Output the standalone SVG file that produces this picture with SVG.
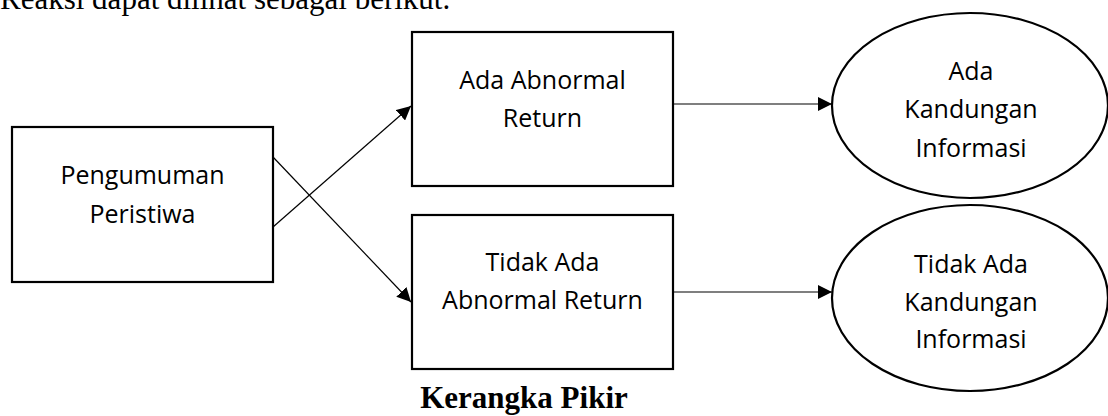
<svg xmlns="http://www.w3.org/2000/svg" width="1108" height="416" viewBox="0 0 1108 416">
<style>
.box{fill:#fff;stroke:#000;stroke-width:2.2}
.ell{fill:#fff;stroke:#000;stroke-width:2.2}
.lbl{font-family:"Open Sans","Noto Sans",sans-serif;font-size:25px;fill:#000;text-anchor:middle}
.conn{stroke:#000;stroke-width:1.2;fill:none;marker-end:url(#arr)}
.serif{font-family:"Liberation Serif","Times New Roman",serif;fill:#000}
</style>
<defs>
<marker id="arr" markerUnits="userSpaceOnUse" markerWidth="14" markerHeight="14" refX="14" refY="7" orient="auto">
<path d="M0,0 L14,7 L0,14 z" fill="#000"/>
</marker>
</defs>
<rect width="1108" height="416" fill="#fff"/>
<text class="serif" x="0" y="9" font-size="31">Reaksi dapat dilihat sebagai berikut.</text>
<g id="pengumuman">
<rect class="box" x="12" y="127" width="261" height="155"/>
<text class="lbl" x="142.5" y="184">Pengumuman</text>
<text class="lbl" x="142.5" y="223">Peristiwa</text>
</g>
<g id="ada-abnormal">
<rect class="box" x="412" y="32" width="261" height="154"/>
<text class="lbl" x="542.5" y="89">Ada Abnormal</text>
<text class="lbl" x="542.5" y="127">Return</text>
</g>
<g id="tidak-abnormal">
<rect class="box" x="412" y="215" width="261" height="154"/>
<text class="lbl" x="542.5" y="271">Tidak Ada</text>
<text class="lbl" x="542.5" y="309">Abnormal Return</text>
</g>
<g id="ada-informasi">
<ellipse class="ell" cx="970" cy="105.5" rx="138" ry="92.5"/>
<text class="lbl" x="971" y="80">Ada</text>
<text class="lbl" x="971" y="118">Kandungan</text>
<text class="lbl" x="971" y="157">Informasi</text>
</g>
<g id="tidak-informasi">
<ellipse class="ell" cx="970" cy="298" rx="138" ry="93"/>
<text class="lbl" x="971" y="273">Tidak Ada</text>
<text class="lbl" x="971" y="311">Kandungan</text>
<text class="lbl" x="971" y="348">Informasi</text>
</g>
<g id="connectors">
<path class="conn" d="M273,227 L411,106"/>
<path class="conn" d="M273,157 L411,302"/>
<path class="conn" d="M673,104 L832,104"/>
<path class="conn" d="M673,292 L832,292"/>
</g>
<text class="serif" x="524" y="408" font-size="31" font-weight="bold" text-anchor="middle">Kerangka Pikir</text>
</svg>
